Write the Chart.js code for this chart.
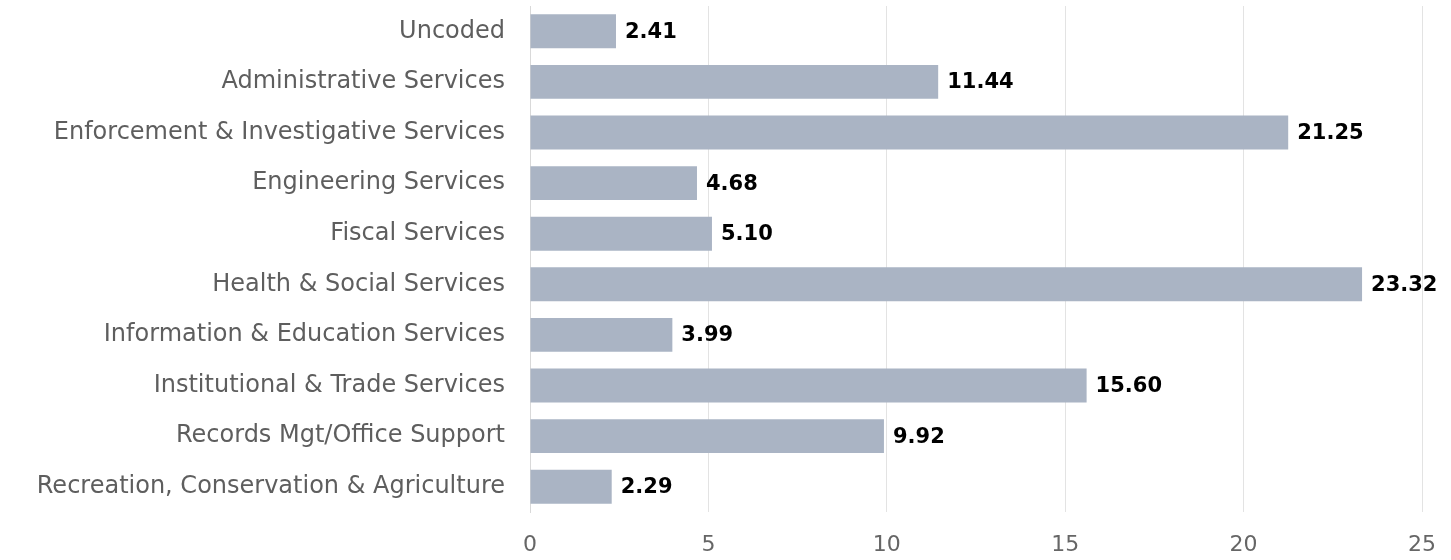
<!DOCTYPE html>
<html>
<head>
<meta charset="utf-8">
<script src="https://cdn.jsdelivr.net/npm/chart.js@4"></script>
<style>
    html, body { margin: 0; padding: 0; background: #fff; }
    #wrap { width: 1451px; height: 560px; }
</style>
</head>
<body>
<div id="wrap"><canvas id="deptChart" width="1451" height="560"></canvas></div>
<script>
// Hours by service group
const categories = [
    'Uncoded',
    'Administrative Services',
    'Enforcement & Investigative Services',
    'Engineering Services',
    'Fiscal Services',
    'Health & Social Services',
    'Information & Education Services',
    'Institutional & Trade Services',
    'Records Mgt/Office Support',
    'Recreation, Conservation & Agriculture'
];
const values = [2.41, 11.44, 21.25, 4.68, 5.10, 23.32, 3.99, 15.60, 9.92, 2.29];
const xTicks = [0, 5, 10, 15, 20, 25];

const axisFont = "'DejaVu Sans', sans-serif";

/**
 * Draw value labels at the end of each bar
 */
const valueLabels = {
    id: 'valueLabels',
    afterDatasetsDraw(chart) {
        const ctx = chart.ctx;
        const meta = chart.getDatasetMeta(0);
        ctx.save();
        ctx.font = "bold 21px " + axisFont;
        ctx.fillStyle = '#000';
        ctx.textBaseline = 'middle';
        ctx.textAlign = 'left';
        meta.data.forEach((bar, i) => {
            ctx.fillText(values[i].toFixed(2), bar.x + 9, bar.y + 1);
        });
        ctx.restore();
    }
};

const ctx = document.getElementById('deptChart').getContext('2d');
new Chart(ctx, {
    type: 'bar',
    data: {
        labels: categories,
        datasets: [{
            data: values,
            backgroundColor: '#aab4c4',
            borderWidth: 0,
            barPercentage: 0.67,
            categoryPercentage: 1
        }]
    },
    options: {
        indexAxis: 'y',
        responsive: false,
        animation: false,
        layout: { padding: { top: 6, right: 29, bottom: 0, left: 0 } },
        scales: {
            x: {
                min: 0,
                max: 25,
                afterBuildTicks(scale) {
                    scale.ticks = xTicks.map(v => ({ value: v }));
                },
                afterFit(scale) {
                    scale.height = 48;
                    scale.paddingRight = 0;
                },
                grid: { color: '#e3e3e3', lineWidth: 1, drawTicks: false },
                border: { display: false },
                ticks: {
                    color: '#666',
                    padding: 20,
                    font: { family: axisFont, size: 22, weight: 'normal' }
                }
            },
            y: {
                afterFit(scale) {
                    scale.width = 530;
                    // keep the first and last labels from pushing the plot area in
                    scale.paddingTop = 0;
                    scale.paddingBottom = 0;
                },
                grid: { display: false, drawTicks: false },
                border: { display: true, color: '#d9d9d9' },
                ticks: {
                    color: '#5e5e5e',
                    padding: 25,
                    font: { family: axisFont, size: 24, weight: 'normal' }
                }
            }
        },
        plugins: {
            legend: { display: false },
            tooltip: { enabled: false }
        }
    },
    plugins: [valueLabels]
});
</script>
</body>
</html>
